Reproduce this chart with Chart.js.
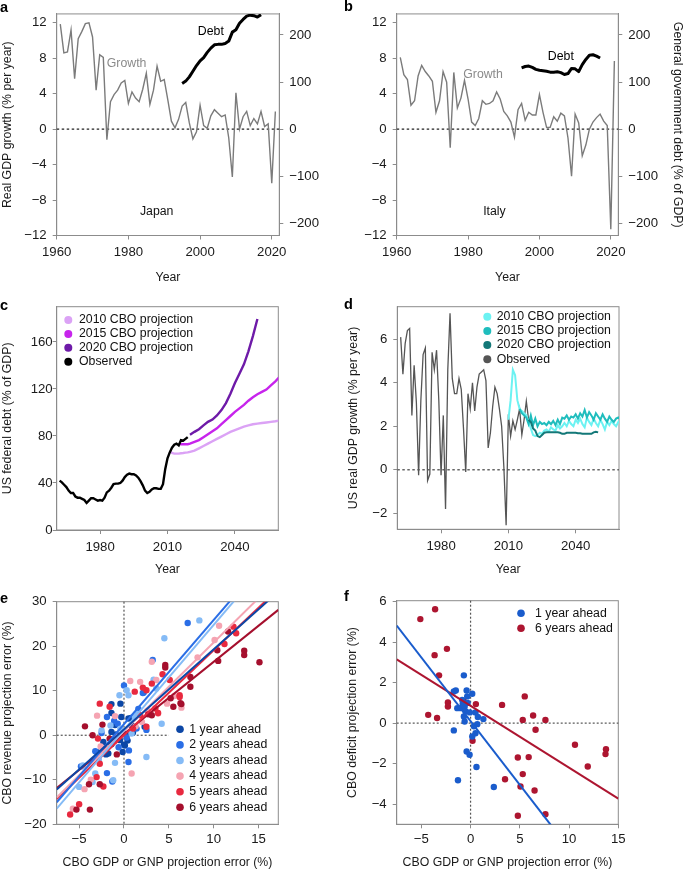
<!DOCTYPE html>
<html>
<head>
<meta charset="utf-8">
<script src="https://cdn.jsdelivr.net/npm/chart.js@4.4.1/dist/chart.umd.min.js"></script>
<style>
  body { margin: 0; background: #fff; width: 685px; height: 870px; position: relative; overflow: hidden;
         font-family: "Liberation Sans", Arial, Helvetica, sans-serif; }
  canvas { position: absolute; }
  .tag { position: absolute; font-weight: bold; font-size: 14.5px; color: #000; line-height: 16px; }
</style>
</head>
<body>
<canvas id="pa" width="340" height="290" style="left:0;top:0"></canvas>
<canvas id="pb" width="345" height="290" style="left:340px;top:0"></canvas>
<canvas id="pc" width="340" height="290" style="left:0;top:290px"></canvas>
<canvas id="pd" width="345" height="290" style="left:340px;top:290px"></canvas>
<canvas id="pe" width="340" height="290" style="left:0;top:580px"></canvas>
<canvas id="pf" width="345" height="290" style="left:340px;top:580px"></canvas>
<div class="tag" style="left:0;top:-1px">a</div>
<div class="tag" style="left:344px;top:-2px">b</div>
<div class="tag" style="left:0;top:297px">c</div>
<div class="tag" style="left:344px;top:296px">d</div>
<div class="tag" style="left:0;top:590px">e</div>
<div class="tag" style="left:344px;top:588px">f</div>
<script>
/* panels a, b: growth (left axis) and debt (right axis) */
const GROWTH_START = 1961;
const JAPAN_GROWTH = [11.85, 8.6, 8.7, 11.2, 5.7, 10.2, 11.0, 11.9, 12.0, 10.4,
  4.4, 8.4, 8.1, -1.2, 3.1, 3.9, 4.4, 5.2, 5.5, 2.9,
  4.2, 3.5, 3.1, 4.5, 6.3, 2.8, 4.4, 7.1, 5.4, 5.6,
  3.3, 0.9, 0.15, 1.1, 2.6, 3.0, 0.7, -1.1, -0.3, 2.7,
  0.4, 0.1, 1.5, 2.2, 1.8, 1.4, 1.6, -1.0, -5.4, 4.1,
  0.0, 1.4, 2.0, 0.4, 1.2, 0.6, 2.0, 0.3, 0.6, -6.1, 2.0];
const ITALY_GROWTH = [8.1, 6.15, 5.6, 2.7, 3.2, 6.0, 7.2, 6.5, 6.0, 5.4,
  1.9, 3.2, 6.5, 5.3, -2.1, 6.4, 2.4, 3.5, 5.5, 3.4,
  0.8, 0.4, 1.2, 3.2, 2.8, 2.9, 3.2, 4.2, 3.4, 2.0,
  1.5, 0.8, -0.9, 2.2, 2.9, 1.0, 1.9, 1.6, 1.6, 3.9,
  1.9, 0.2, 0.2, 1.4, 0.9, 1.8, 1.5, -1.0, -5.3, 1.7,
  0.7, -3.0, -1.8, 0.0, 0.8, 1.3, 1.7, 0.9, 0.4, -11.3, 7.7];
const DEBT_START = 1995;
const JAPAN_DEBT = [97, 102, 111, 123, 135, 145, 152, 163, 172, 179, 180, 180,
  182, 187, 206, 211, 225, 233, 240, 242, 241, 238, 243];
const ITALY_DEBT = [130, 133, 134, 131, 127, 125, 124, 123, 121, 121, 122, 120,
  116, 118, 129, 128, 122, 137, 148, 157, 158, 155, 151];
const YEAR_TICKS_AB = [1960, 1980, 2000, 2020];
const GROWTH_TICKS = [-12, -8, -4, 0, 4, 8, 12];
const DEBT_TICKS = [-200, -100, 0, 100, 200];
const DEBT_PER_GROWTH = 18.82; // right axis units per left axis unit

/* panel c: US federal debt, % of GDP */
const US_DEBT_START = 1962;
const US_DEBT = [42, 40.5, 38.5, 36.5, 33.5, 31.5, 31.5, 28.5, 27.5, 27.5,
  26.5, 25.5, 23, 25, 27, 27, 26, 25, 25.5, 25,
  27.5, 32, 33.5, 36, 39, 39.5, 39.5, 40, 42, 45,
  47, 48, 47.5, 47.5, 46.5, 44.5, 41.5, 38, 33.5, 31.5,
  32.5, 34.5, 35.5, 35.5, 35, 35, 39, 52, 61, 66,
  70, 72.5, 73.5, 72, 76.5, 76, 77.5, 79];
const CBO10_DEBT_YEARS = [2011, 2012, 2013, 2014, 2015, 2016, 2017, 2018, 2019, 2020, 2022, 2024, 2026, 2028, 2030,
  2032, 2034, 2036, 2038, 2040, 2042, 2044, 2046, 2048, 2050, 2052, 2054, 2056, 2058, 2060];
const CBO10_DEBT = [67, 65.5, 65, 65, 65, 65.3, 65.5, 65.8, 66, 66.5, 67.5, 69.5, 71.5, 73.5, 75.5,
  77.5, 79.5, 81.5, 83.5, 85, 86.5, 88, 89, 90, 90.5, 91, 91.5, 92, 92.5, 93.2];
const CBO15_DEBT_YEARS = [2015, 2016, 2017, 2018, 2019, 2020, 2022, 2024, 2026, 2028, 2030, 2032, 2034, 2036,
  2038, 2040, 2042, 2044, 2046, 2048, 2050, 2052, 2054, 2056, 2058, 2060];
const CBO15_DEBT = [73.5, 73, 73, 73, 73, 73.5, 75, 76.5, 79, 81.5, 84, 86.5, 90, 93.5,
  97, 100.5, 103.5, 106.5, 110, 113, 115.5, 117.5, 119.5, 123, 126.5, 130.5];
const CBO20_DEBT_YEARS = [2020, 2022, 2024, 2026, 2028, 2030, 2032, 2034, 2036, 2038, 2040, 2042, 2044, 2046, 2048, 2050];
const CBO20_DEBT = [81, 83.5, 85.8, 89, 92, 94, 97.5, 102, 108, 116, 125, 133, 141, 152, 165, 179.5];
const YEAR_TICKS_CD = [1980, 2010, 2040];
const US_DEBT_TICKS = [0, 40, 80, 120, 160];

/* panel d: US real GDP growth */
const US_GROWTH_START = 1962;
const US_GROWTH = [6.1, 4.4, 5.8, 6.4, 6.5, 2.5, 4.8, 3.1, -0.25, 3.2,
  5.3, 5.6, -0.5, -0.2, 5.4, 4.6, 5.5, 3.2, -0.25, 2.5,
  -1.8, 4.6, 7.2, 4.2, 3.5, 3.5, 4.2, 3.7, 1.9, -0.1,
  3.5, 2.8, 4.0, 2.7, 3.8, 4.4, 4.5, 4.6, 4.1, 1.0,
  1.7, 2.9, 3.8, 3.5, 2.8, 2.0, 0.1, -2.55, 2.55, 1.55,
  2.25, 1.85, 2.3, 2.8, 1.6, 2.3, 3.15, 2.3];
const CBO10_GROWTH_START = 2010;
const CBO10_GROWTH = [2.3, 3.2, 4.6, 4.35, 3.2, 2.8, 2.7, 2.6, 2.5, 2.2,
  1.9, 1.6, 1.55, 1.6, 1.7, 1.65, 1.8, 1.85, 1.75, 1.95,
  1.85, 1.8, 2.05, 1.9, 2.0, 2.15, 2.0, 2.25, 2.1, 2.0,
  2.3, 2.15, 2.35, 2.1, 1.95, 2.4, 2.2, 2.05, 2.35, 2.15,
  2.0, 2.3, 2.1, 1.85, 2.2, 2.05, 2.25, 2.1, 2.0, 2.2, 2.3];
const CBO15_GROWTH_START = 2015;
const CBO15_GROWTH = [2.8, 2.6, 2.5, 2.4, 2.1, 2.5, 2.05, 2.35, 2.0, 2.2,
  2.1, 2.15, 2.05, 2.2, 2.1, 2.25, 2.05, 2.3, 2.1, 2.4,
  2.35, 2.5, 2.3, 2.45, 2.4, 2.55, 2.35, 2.6, 2.45, 2.75,
  2.4, 2.65, 2.5, 2.3, 2.6, 2.45, 2.3, 2.55, 2.35, 2.2,
  2.45, 2.3, 2.2, 2.35, 2.4, 2.3];
const CBO20_GROWTH_START = 2019;
const CBO20_GROWTH = [2.3, 2.2, 1.9, 1.8, 1.55, 1.5, 1.6, 1.7, 1.72, 1.72,
  1.72, 1.72, 1.72, 1.72, 1.7, 1.65, 1.65, 1.7, 1.7, 1.7,
  1.7, 1.7, 1.68, 1.68, 1.66, 1.65, 1.65, 1.65, 1.65, 1.72, 1.75, 1.72];
const US_GROWTH_TICKS = [-2, 0, 2, 4, 6];

/* panel e: revenue error vs GDP error, [gdp error, revenue error] */
const REV_LABELS = ['1 year ahead', '2 years ahead', '3 years ahead', '4 years ahead', '5 years ahead', '6 years ahead'];
const REV_1Y = [[-1.4, 7.0], [-0.4, 7.1], [-1.4, 5.0], [-0.3, 4.1], [0.5, 3.75], [0.85, 2.25], [-1.4, 0.75],
  [-0.9, -0.4], [-0.45, -1.1], [0.0, -2.1], [-0.15, -3.75], [0.1, -2.3], [-1.4, -2.0], [-1.75, -4.1],
  [-2.0, -4.3], [-2.3, -1.5], [0.4, -1.2], [2.3, 1.9], [-0.9, 0.2], [0.2, 0.3], [-1.0, 2.3], [-3.0, -3.8],
  [0.8, 3.9], [1.0, 0.6]];
const REV_2Y = [[7.1, 25.2], [3.2, 16.9], [0.0, 11.2], [2.2, 9.6], [-1.9, 4.1], [-1.9, -8.5], [-1.3, -10.4],
  [-2.2, -3.0], [-3.2, -3.6], [0.55, -3.4], [0.5, -6.0], [1.4, 1.5], [2.5, 1.2], [-0.7, 2.6], [-2.5, 0.5],
  [0.3, -0.5], [-1.1, 3.2], [1.6, 5.9], [-4.8, -7.0], [-0.6, -2.7], [2.1, 9.5]];
const REV_3Y = [[8.4, 25.8], [4.5, 21.8], [-0.5, 9.0], [0.5, 9.0], [3.3, 12.5], [4.2, 2.6], [2.5, -4.9],
  [-3.2, -8.6], [-5.0, -11.6], [-4.6, -6.8], [-1.2, -10.1], [-1.0, -6.2], [-2.5, 1.1], [0.85, 0.4],
  [1.2, 4.1], [0.3, 10.1], [-3.5, -10.5], [-1.5, 2.2], [-0.4, 1.5], [1.5, 4.8], [-2.8, -5.5], [3.6, 10.5]];
const REV_4Y = [[10.6, 24.6], [10.1, 21.4], [8.2, 17.5], [3.6, 12.4], [1.8, 12.0], [3.1, 16.5], [6.4, 6.2],
  [4.8, 7.1], [3.8, 4.9], [-3.0, 4.4], [-3.7, -10.0], [-4.4, -12.1], [-5.7, -16.5], [0.85, -8.6],
  [0.7, 12.2], [2.6, 5.5], [-1.0, 4.3], [-2.6, -2.5], [1.3, 2.0], [5.6, 8.8], [-0.8, -0.3], [2.0, 3.0]];
const REV_5Y = [[11.2, 20.5], [12.2, 24.4], [12.5, 22.9], [5.1, 12.4], [6.2, 9.0], [6.2, 8.6], [4.3, 13.7],
  [3.1, 11.6], [2.5, 10.1], [1.2, 9.8], [2.1, 10.7], [3.5, 6.0], [1.8, 4.5], [2.5, 1.9], [-2.7, 7.1],
  [-1.6, 6.4], [-2.9, -0.75], [-2.7, -6.4], [-3.05, -9.4], [-2.3, -11.5], [-5.0, -15.5], [-6.0, -17.8],
  [3.8, 5.0], [1.0, 1.5], [-1.0, -1.2]];
const REV_6Y = [[10.4, 19.1], [10.5, 16.7], [11.6, 23.3], [13.4, 19.0], [13.4, 18.0], [15.1, 16.4], [7.4, 13.1],
  [7.4, 10.9], [6.4, 7.0], [5.2, 8.3], [5.5, 6.4], [4.6, 15.8], [4.6, 15.2], [3.1, 4.5], [-4.35, 2.0],
  [-3.5, 0.0], [-2.4, 2.4], [-2.7, -11.0], [-3.9, -11.0], [-5.3, -16.7], [-3.8, -16.7], [-0.8, -4.3],
  [-1.6, -0.75], [6.3, 7.2], [2.7, 4.7]];
const REV_SLOPE = [1.80, 2.34, 2.36, 1.99, 1.91, 1.62];
const REV_INTERCEPT = [1.3, 2.5, 1.2, 0.95, 0.0, 0.3];
const ERR_X_TICKS = [-5, 0, 5, 10, 15];
const REV_TICKS = [-20, -10, 0, 10, 20, 30];

/* panel f: deficit error vs GDP error */
const DEF_LABELS = ['1 year ahead', '6 years ahead'];
const DEF_1Y = [[-0.68, 2.36], [-1.5, 1.61], [-1.7, 1.56], [-0.4, 1.61], [0.17, 1.45], [-0.34, 1.32],
  [-0.85, 1.15], [-1.35, 0.74], [-1.0, 0.74], [-0.6, 0.82], [-0.5, 0.58], [-0.68, 0.33], [-0.6, 0.08],
  [-0.07, 0.53], [0.5, 0.53], [0.74, 0.3], [1.3, 0.2], [0.68, -0.05], [0.34, -0.16], [0.17, -0.66],
  [0.5, -0.5], [-1.7, -0.36], [-0.4, -1.4], [-0.1, -1.56], [0.6, -2.17], [-1.28, -2.82], [2.36, -3.16],
  [-0.8, 0.95], [-0.3, 1.0]];
const DEF_6Y = [[-5.1, 5.14], [-3.6, 5.63], [-3.65, 3.36], [-2.4, 3.67], [-3.2, 2.36], [-2.3, 1.02],
  [-2.3, 0.82], [-4.3, 0.41], [-3.4, 0.25], [-0.68, 1.07], [0.54, 0.94], [0.2, -0.87], [3.2, 0.9],
  [5.5, 1.32], [5.3, 0.16], [6.35, 0.38], [7.6, 0.16], [6.6, -0.33], [4.8, -1.7], [5.9, -1.68],
  [5.3, -2.52], [3.5, -2.77], [5.07, -3.13], [6.5, -3.33], [4.8, -4.58], [7.6, -4.5], [10.6, -1.07],
  [11.9, -2.14], [13.75, -1.29], [13.7, -1.53]];
const DEF_SLOPE = [-0.63, -0.306];
const DEF_INTERCEPT = [0.1, 0.86];
const DEF_TICKS = [-4, -2, 0, 2, 4, 6];

/* ---------- helpers ---------- */
const FONT = '"Liberation Sans", Arial, Helvetica, sans-serif';
Chart.defaults.font.family = FONT;
Chart.defaults.font.size = 12.3;
Chart.defaults.color = '#1a1a1a';
Chart.defaults.animation = false;
Chart.defaults.responsive = false;
Chart.defaults.plugins.legend.display = false;
Chart.defaults.plugins.tooltip.enabled = false;
Chart.defaults.elements.point.radius = 0;
Chart.defaults.elements.line.tension = 0;

const AXIS = '#8c8c8c';
const fmt = (v) => String(v).replace('-', '\u2212');
const pts = (x0, vals) => vals.map((y, i) => ({ x: x0 + i, y }));
const xy = (xs, ys) => ys.map((y, i) => ({ x: xs[i], y }));
const pairs = (arr) => arr.map(([x, y]) => ({ x, y }));
const fitLine = (a, b, x0, x1) => [{ x: x0, y: a + b * x0 }, { x: x1, y: a + b * x1 }];

function axis(o) {
  return {
    type: 'linear', position: o.pos, min: o.min, max: o.max,
    afterBuildTicks: (s) => { s.ticks = o.ticks.map((v) => ({ value: v })); },
    afterFit: (s) => { if (s.isHorizontal()) s.height = o.size; else s.width = o.size; },
    ticks: { padding: o.pad, maxRotation: 0, autoSkip: false, font: { size: 13.2 }, callback: (v) => fmt(v) },
    grid: { drawOnChartArea: false, drawTicks: true, tickLength: 4, tickWidth: 1, tickColor: AXIS, color: AXIS },
    border: { display: true, color: AXIS, width: 1 },
    title: o.title
      ? { display: true, text: o.title, padding: o.titlePad || { top: 0, bottom: 0 } }
      : { display: false },
  };
}

// frame, dotted reference lines, in-plot labels and legends
const extras = {
  id: 'extras',
  beforeDatasetsDraw(chart, args, opts) {
    const { ctx, chartArea: a, scales } = chart;
    ctx.save();
    if (opts.frame) {
      ctx.strokeStyle = AXIS;
      ctx.lineWidth = 1;
      ctx.strokeRect(a.left, a.top, a.right - a.left, a.bottom - a.top);
    }
    for (const h of opts.hlines || []) {
      const y = scales.y.getPixelForValue(h.v);
      const x1 = h.from != null ? scales.x.getPixelForValue(h.from) : a.left;
      const x2 = h.to != null ? scales.x.getPixelForValue(h.to) : a.right;
      ctx.strokeStyle = h.color; ctx.lineWidth = h.w || 1.2; ctx.setLineDash(h.dash || [2, 2]);
      ctx.beginPath(); ctx.moveTo(x1, y); ctx.lineTo(x2, y); ctx.stroke();
    }
    for (const l of opts.vlines || []) {
      const x = scales.x.getPixelForValue(l.v);
      ctx.strokeStyle = l.color; ctx.lineWidth = l.w || 1.2; ctx.setLineDash(l.dash || [2, 2]);
      ctx.beginPath(); ctx.moveTo(x, a.top); ctx.lineTo(x, a.bottom); ctx.stroke();
    }
    ctx.restore();
  },
  afterDatasetsDraw(chart, args, opts) {
    const { ctx, chartArea: a, scales } = chart;
    ctx.save();
    ctx.font = '12.3px ' + FONT;
    ctx.textBaseline = 'middle';
    for (const t of opts.texts || []) {
      ctx.fillStyle = t.color || '#111';
      ctx.textAlign = 'center';
      ctx.fillText(t.text, scales.x.getPixelForValue(t.x), scales.y.getPixelForValue(t.y));
    }
    const lg = opts.legend;
    if (lg) {
      lg.items.forEach((it, i) => {
        const y = a.top + lg.dy + i * lg.row;
        ctx.fillStyle = it.color;
        ctx.beginPath(); ctx.arc(a.left + lg.dx, y, lg.r, 0, Math.PI * 2); ctx.fill();
        ctx.fillStyle = '#111';
        ctx.textAlign = 'left';
        ctx.fillText(it.label, a.left + lg.tx, y);
      });
    }
    ctx.restore();
  },
};
Chart.register(extras);

/* ---------- a, b ---------- */
function growthDebtPanel(id, growth, debt, w, chartRight, names, leftTitle, rightTitle) {
  new Chart(document.getElementById(id), {
    type: 'line',
    data: {
      datasets: [
        { data: pts(DEBT_START, debt), yAxisID: 'y2', borderColor: '#000', borderWidth: 3, borderJoinStyle: 'round' },
        { data: pts(GROWTH_START, growth), yAxisID: 'y', borderColor: '#7b7b7b', borderWidth: 1.4 },
      ],
    },
    options: {
      layout: { padding: { top: 13.3, right: 0, bottom: 0, left: 0 } },
      scales: {
        x: axis({ pos: 'bottom', min: 1960, max: 2022.1, ticks: YEAR_TICKS_AB, size: 54.5, pad: 5,
                  title: 'Year', titlePad: { top: 0, bottom: 5.5 } }),
        y: axis({ pos: 'left', min: -12, max: 13, ticks: GROWTH_TICKS, size: 56.7, pad: 6, title: leftTitle }),
        y2: axis({ pos: 'right', min: -12 * DEBT_PER_GROWTH, max: 13 * DEBT_PER_GROWTH, ticks: DEBT_TICKS,
                   size: w - chartRight, pad: 6, title: rightTitle }),
      },
      plugins: {
        extras: {
          frame: true,
          hlines: [{ v: 0, color: '#222', dash: [2.5, 2.5], w: 1.3 }],
          texts: names,
        },
      },
    },
  });
}
growthDebtPanel('pa', JAPAN_GROWTH, JAPAN_DEBT, 340, 279.3, [
  { text: 'Debt', x: 2003.0, y: 11.0, color: '#000' },
  { text: 'Growth', x: 1979.5, y: 7.4, color: '#8a8a8a' },
  { text: 'Japan', x: 1987.9, y: -9.3, color: '#111' },
], 'Real GDP growth (% per year)', null);
growthDebtPanel('pb', ITALY_GROWTH, ITALY_DEBT, 345, 278.3, [
  { text: 'Debt', x: 2006.0, y: 8.2, color: '#000' },
  { text: 'Growth', x: 1984.2, y: 6.15, color: '#8a8a8a' },
  { text: 'Italy', x: 1987.4, y: -9.3, color: '#111' },
], null, 'General government debt (% of GDP)');

/* ---------- c ---------- */
const C_COLORS = ['#dba2f5', '#c724ec', '#6e1aa8', '#000000'];
new Chart(document.getElementById('pc'), {
  type: 'line',
  data: {
    datasets: [
      { data: pts(US_DEBT_START, US_DEBT), borderColor: C_COLORS[3], borderWidth: 2.4 },
      { data: xy(CBO20_DEBT_YEARS, CBO20_DEBT), borderColor: C_COLORS[2], borderWidth: 2.4 },
      { data: xy(CBO15_DEBT_YEARS, CBO15_DEBT), borderColor: C_COLORS[1], borderWidth: 2.4 },
      { data: xy(CBO10_DEBT_YEARS, CBO10_DEBT), borderColor: C_COLORS[0], borderWidth: 2.4 },
    ],
  },
  options: {
    layout: { padding: { top: 16.7, right: 61.7, bottom: 0, left: 0 } },
    scales: {
      x: axis({ pos: 'bottom', min: 1960.7, max: 2059.3, ticks: YEAR_TICKS_CD, size: 50, pad: 5,
                title: 'Year', titlePad: { top: 0, bottom: 3.2 } }),
      y: axis({ pos: 'left', min: 0, max: 190, ticks: US_DEBT_TICKS, size: 56.7, pad: 0,
                title: 'US federal debt (% of GDP)' }),
    },
    plugins: {
      extras: {
        frame: true,
        legend: { dx: 11.6, tx: 22.3, dy: 13.3, row: 13.9, r: 4,
          items: [
            { label: '2010 CBO projection', color: C_COLORS[0] },
            { label: '2015 CBO projection', color: C_COLORS[1] },
            { label: '2020 CBO projection', color: C_COLORS[2] },
            { label: 'Observed', color: C_COLORS[3] },
          ] },
      },
    },
  },
});

/* ---------- d ---------- */
const D_COLORS = ['#6cf2f2', '#1fbdbd', '#137878', '#555555'];
new Chart(document.getElementById('pd'), {
  type: 'line',
  data: {
    datasets: [
      { data: pts(CBO20_GROWTH_START, CBO20_GROWTH), borderColor: D_COLORS[2], borderWidth: 2 },
      { data: pts(CBO15_GROWTH_START, CBO15_GROWTH), borderColor: D_COLORS[1], borderWidth: 2 },
      { data: pts(CBO10_GROWTH_START, CBO10_GROWTH), borderColor: D_COLORS[0], borderWidth: 2 },
      { data: pts(US_GROWTH_START, US_GROWTH), borderColor: D_COLORS[3], borderWidth: 1.3 },
    ],
  },
  options: {
    layout: { padding: { top: 16.7, right: 66, bottom: 0, left: 0 } },
    scales: {
      x: axis({ pos: 'bottom', min: 1960.5, max: 2059.3, ticks: YEAR_TICKS_CD, size: 50.7, pad: 5.5,
                title: 'Year', titlePad: { top: 0, bottom: 3.2 } }),
      y: axis({ pos: 'left', min: -2.74, max: 7.5, ticks: US_GROWTH_TICKS, size: 57.3, pad: 6,
                title: 'US real GDP growth (% per year)', titlePad: { top: 5.8, bottom: 0 } }),
    },
    plugins: {
      extras: {
        frame: true,
        hlines: [{ v: 0, color: '#666', dash: [2.5, 2.5], w: 1.3 }],
        legend: { dx: 90, tx: 99.4, dy: 10, row: 14.2, r: 4,
          items: [
            { label: '2010 CBO projection', color: D_COLORS[0] },
            { label: '2015 CBO projection', color: D_COLORS[1] },
            { label: '2020 CBO projection', color: D_COLORS[2] },
            { label: 'Observed', color: D_COLORS[3] },
          ] },
      },
    },
  },
});

/* ---------- e ---------- */
const E_COLORS = ['#0c47a6', '#2a6ee6', '#85bbf6', '#f5a4b2', '#e8293f', '#a50f2d'];
const E_XMIN = -7.5, E_XMAX = 17.2;
const E_SETS = [REV_1Y, REV_2Y, REV_3Y, REV_4Y, REV_5Y, REV_6Y];
new Chart(document.getElementById('pe'), {
  type: 'scatter',
  data: {
    datasets: [
      ...E_SETS.map((_, i) => ({
        data: fitLine(REV_INTERCEPT[i], REV_SLOPE[i], E_XMIN, E_XMAX), showLine: true, pointRadius: 0,
        borderColor: E_COLORS[i], borderWidth: 2,
      })),
      ...E_SETS.map((s, i) => ({
        data: pairs(s), pointRadius: 3.2, pointBorderWidth: 0, backgroundColor: E_COLORS[i], borderColor: E_COLORS[i],
      })).reverse(),
    ],
  },
  options: {
    layout: { padding: { top: 21.7, right: 61.7, bottom: 0, left: 0 } },
    scales: {
      x: axis({ pos: 'bottom', min: E_XMIN, max: E_XMAX, ticks: ERR_X_TICKS, size: 45.7, pad: 3.5,
                title: 'CBO GDP or GNP projection error (%)', titlePad: { top: 0, bottom: 0 } }),
      y: axis({ pos: 'left', min: -20, max: 30, ticks: REV_TICKS, size: 56.7, pad: 6,
                title: 'CBO revenue projection error (%)' }),
    },
    plugins: {
      extras: {
        frame: true,
        hlines: [{ v: 0, to: 5, color: '#555', dash: [2, 2], w: 1.2 }],
        vlines: [{ v: 0, color: '#555', dash: [2, 2], w: 1.2 }],
        legend: { dx: 123.3, tx: 132.6, dy: 127.6, row: 15.6, r: 3.8,
          items: REV_LABELS.map((l, i) => ({ label: l, color: E_COLORS[i] })) },
      },
    },
  },
});

/* ---------- f ---------- */
const F_COLORS = ['#1a5ccc', '#ad1530'];
const F_XMIN = -7.5, F_XMAX = 15;
const F_SETS = [DEF_1Y, DEF_6Y];
new Chart(document.getElementById('pf'), {
  type: 'scatter',
  data: {
    datasets: [
      ...F_SETS.map((_, i) => ({
        data: fitLine(DEF_INTERCEPT[i], DEF_SLOPE[i], F_XMIN, F_XMAX), showLine: true, pointRadius: 0,
        borderColor: F_COLORS[i], borderWidth: 2,
      })),
      ...F_SETS.map((s, i) => ({
        data: pairs(s), pointRadius: 3.2, pointBorderWidth: 0, backgroundColor: F_COLORS[i], borderColor: F_COLORS[i],
      })),
    ],
  },
  options: {
    layout: { padding: { top: 20.7, right: 66.7, bottom: 0, left: 0 } },
    scales: {
      x: axis({ pos: 'bottom', min: F_XMIN, max: F_XMAX, ticks: ERR_X_TICKS, size: 45.7, pad: 3.5,
                title: 'CBO GDP or GNP projection error (%)', titlePad: { top: 0, bottom: 0 } }),
      y: axis({ pos: 'left', min: -5, max: 6.05, ticks: DEF_TICKS, size: 56.7, pad: 6,
                title: 'CBO deficit projection error (%)', titlePad: { top: 5.2, bottom: 0 } }),
    },
    plugins: {
      extras: {
        frame: true,
        hlines: [{ v: 0, color: '#555', dash: [2, 2], w: 1.2 }],
        vlines: [{ v: 0, color: '#555', dash: [2, 2], w: 1.2 }],
        legend: { dx: 124.3, tx: 138.3, dy: 12.6, row: 15, r: 3.8,
          items: DEF_LABELS.map((l, i) => ({ label: l, color: F_COLORS[i] })) },
      },
    },
  },
});
</script>
</body>
</html>
